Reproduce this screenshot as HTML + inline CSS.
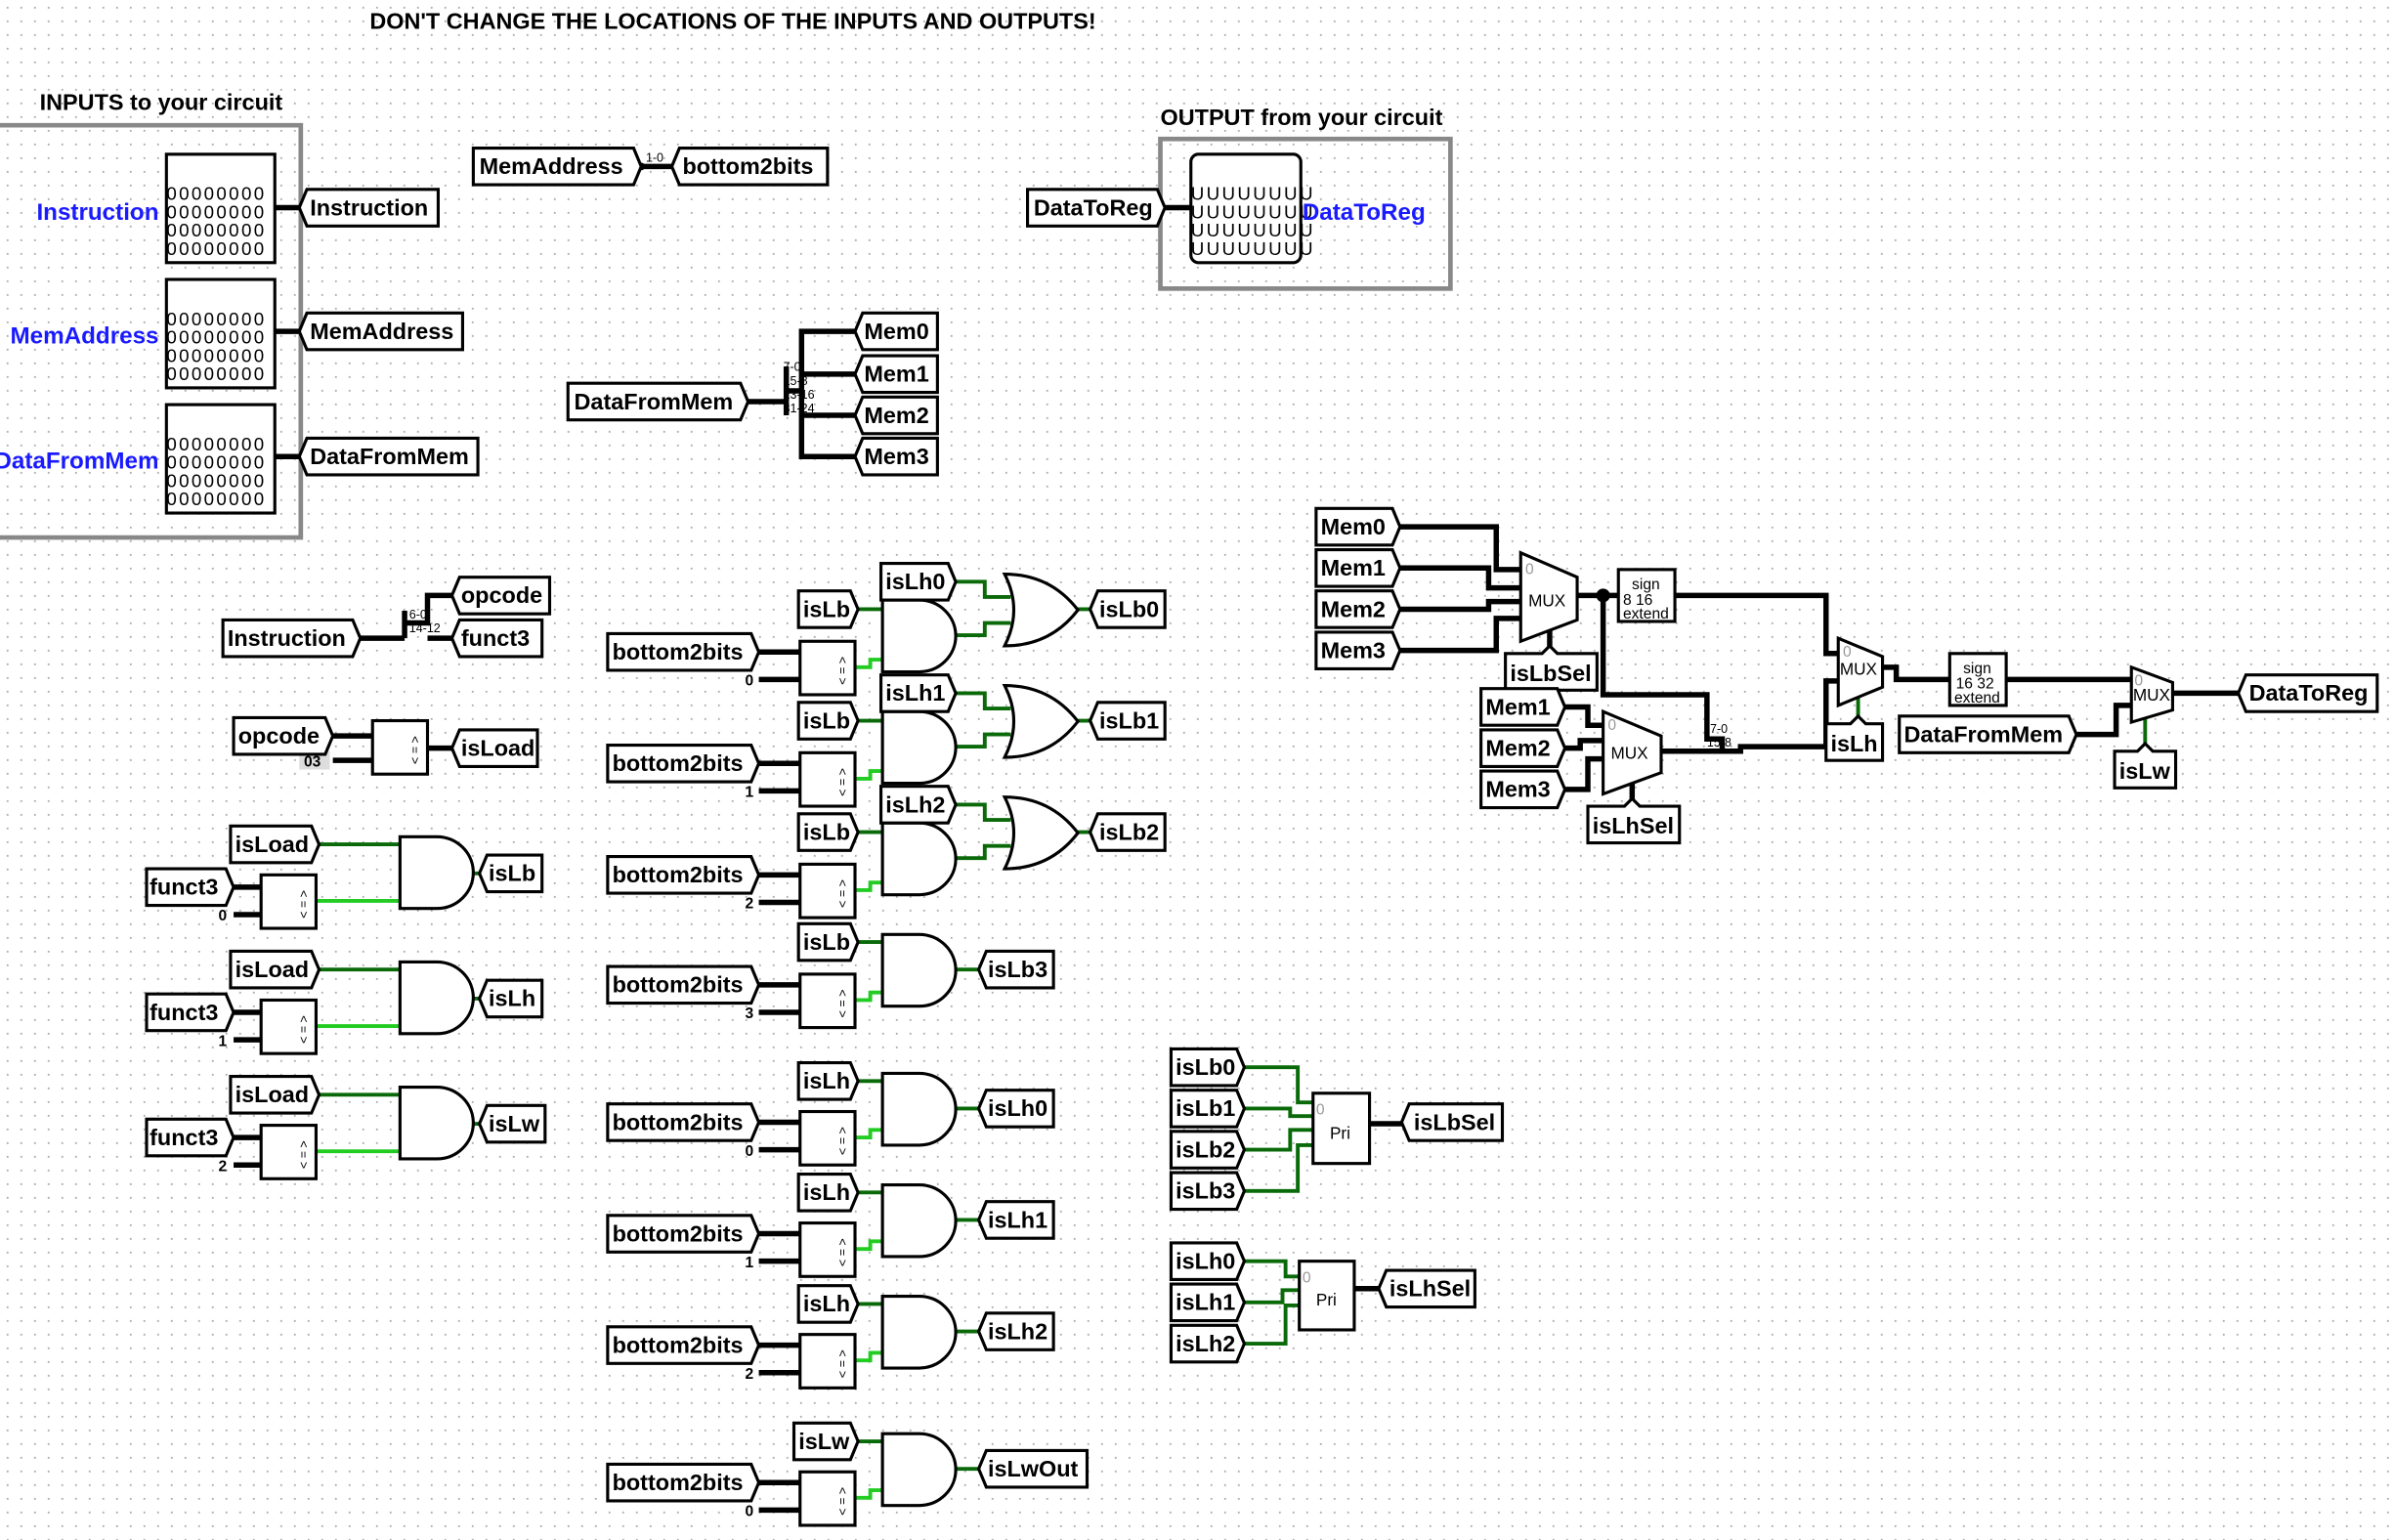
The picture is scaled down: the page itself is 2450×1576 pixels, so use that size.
<!DOCTYPE html>
<html><head><meta charset="utf-8"><style>
html,body{margin:0;padding:0;background:#fff;}
svg{display:block;}
text{font-family:"Liberation Sans",sans-serif;}
.t{font-weight:bold;font-size:15px;fill:#000;}
.tn{fill:#fff;stroke:#000;stroke-width:2;}
.w{fill:none;stroke:#000;stroke-width:3.5;}
.g{fill:none;stroke:#0a6a0a;stroke-width:2.5;}
.lg{fill:none;stroke:#22cc22;stroke-width:2.5;}
.gate{fill:#fff;stroke:#000;stroke-width:2;}
.cmp{fill:#fff;stroke:#000;stroke-width:2;}
.s{font-size:8px;}
.m{font-family:"Liberation Mono",monospace;font-size:12px;letter-spacing:1.5px;}
.b{fill:#1a1aff;font-weight:bold;font-size:15.5px;}
</style></head><body>
<svg width="2450" height="1576" viewBox="0 0 1568 1008.6" xmlns="http://www.w3.org/2000/svg">
<defs>
<pattern id="grid" x="4" y="4" width="8.96" height="8.96" patternUnits="userSpaceOnUse"><circle cx="1" cy="1" r="0.6" fill="#999"/></pattern>
<path id="and" d="M0,0 H24 A24,23.5 0 0 1 24,47 H0 Z" class="gate"/>
<path id="or" d="M0,0 Q30,0 48,23.5 Q30,47 0,47 Q12,23.5 0,0 Z" class="gate"/>
<g id="cmp"><rect width="36" height="35" class="cmp"/><text x="25" y="10" font-size="8" transform="rotate(90 25 10)">&lt; = &gt;</text></g>
</defs>
<rect width="1568" height="1009" fill="#fff"/>
<rect width="1568" height="1009" fill="url(#grid)"/>

<text x="480" y="19" class="t" text-anchor="middle" font-size="14">DON'T CHANGE THE LOCATIONS OF THE INPUTS AND OUTPUTS!</text>
<text x="26" y="72" class="t" font-size="14">INPUTS to your circuit</text>
<polyline points="0,82 197,82 197,352 0,352" fill="none" stroke="#888" stroke-width="3"/>
<text x="760" y="82" class="t" font-size="14">OUTPUT from your circuit</text>
<rect x="760" y="91" width="190" height="98" fill="none" stroke="#888" stroke-width="3"/>

<g stroke="#000" stroke-width="2" fill="#fff">
<rect x="109" y="101" width="71" height="71"/><rect x="109" y="183" width="71" height="71"/><rect x="109" y="265" width="71" height="71"/>
<rect x="780" y="101" width="72" height="71" rx="5"/>
</g>
<g class="m">
<text x="109" y="131">00000000</text><text x="109" y="143">00000000</text><text x="109" y="155">00000000</text><text x="109" y="167">00000000</text>
<text x="109" y="213">00000000</text><text x="109" y="225">00000000</text><text x="109" y="237">00000000</text><text x="109" y="249">00000000</text>
<text x="109" y="295">00000000</text><text x="109" y="307">00000000</text><text x="109" y="319">00000000</text><text x="109" y="331">00000000</text>
<text x="780" y="131">UUUUUUUU</text><text x="780" y="143">UUUUUUUU</text><text x="780" y="155">UUUUUUUU</text><text x="780" y="167">UUUUUUUU</text>
</g>
<text x="104" y="144" class="b" text-anchor="end">Instruction</text>
<text x="104" y="225" class="b" text-anchor="end">MemAddress</text>
<text x="104" y="307" class="b" text-anchor="end">DataFromMem</text>
<text x="853" y="144" class="b">DataToReg</text>

<g class="w">
<path d="M180,136H196M180,217H196M180,299H196"/>
<path d="M763,136H780"/>
<path d="M420,109H440"/>
<path d="M490,263H515M515,240V272M515,256H525V217H560M525,245H560M525,272H560M525,256V299H560"/>
<path d="M236,418H265M265,400V418M265,408H280V390H296M280,418H296"/>
<path d="M218,482H244M218,498H244M280,490H296"/>
<path d="M153,581H171M153,599H171M153,663H171M153,681H171M153,745H171M153,763H171"/>
<path d="M497,427H524M497,445H524M497,500H524M497,518H524M497,573H524M497,591H524M497,645H524M497,663H524"/>
<path d="M497,735H524M497,753H524M497,808H524M497,826H524M497,881H524M497,899H524M497,971H524M497,989H524"/>
<path d="M917,345H980V373H996M917,372H975V385H996M917,399H975V394H996M917,426H980V405H996"/>
<path d="M1015,412V428M1033,390H1060M1097,390H1196V428H1204M1050,390V455H1118V484H1128V492M1088,492H1140V489H1196V446H1204"/>
<path d="M1025,463H1040V475H1050M1025,490H1035V485H1050M1025,517H1040V497H1050M1069,513V528"/>
<path d="M1233,437H1242V445H1277M1314,445H1396M1360,481H1386V462H1396M1423,454H1466"/>
<path d="M897,736H918M887,844H903"/>
</g>
<circle cx="1050" cy="390" r="4.5" fill="#000"/>
<circle cx="420" cy="109" r="2.5" fill="#000"/>
<g class="s"><text x="423" y="106">1-0</text><text x="513" y="243">7-0</text><text x="513" y="252">15-8</text><text x="513" y="261">23-16</text><text x="513" y="270">31-24</text>
<text x="268" y="405">6-0</text><text x="268" y="414">14-12</text><text x="1120" y="480">7-0</text><text x="1118" y="489">15-8</text></g>

<g class="g">
<path d="M209,553H262M209,635H262M209,717H262"/>
<path d="M562,399H578M626,381H645V391H662M625,416H645V408H662M706,399H714"/>
<path d="M562,472H578M626,454H645V464H662M625,489H645V481H662M706,472H714"/>
<path d="M562,545H578M626,527H645V537H662M625,562H645V554H662M706,545H714"/>
<path d="M562,617H578M625,635H641M562,708H578M625,726H641M562,781H578M625,799H641M562,854H578M625,872H641M562,944H578M625,962H641"/>
<path d="M310,572H314M310,654H314M310,736H314"/>
<path d="M1217,474V455M1405,492V469"/>
<path d="M815,699H850V722H860M815,726H845V731H860M815,753H845V740H860M815,780H850V750H860"/>
<path d="M815,826H842V836H851M815,853H840V845H851M815,880H842V855H851"/>
</g>
<g class="lg">
<path d="M207,590H262M207,672H262M207,754H262"/>
<path d="M560,437H570V432H578M560,510H570V505H578M560,583H570V578H578M560,655H570V650H578"/>
<path d="M560,745H570V740H578M560,818H570V813H578M560,891H570V886H578M560,981H570V976H578"/>
</g>

<use href="#and" x="262" y="548"/><use href="#and" x="262" y="630"/><use href="#and" x="262" y="712"/>
<use href="#and" x="578" y="393"/><use href="#and" x="578" y="466"/><use href="#and" x="578" y="539"/><use href="#and" x="578" y="612"/>
<use href="#and" x="578" y="703"/><use href="#and" x="578" y="776"/><use href="#and" x="578" y="849"/><use href="#and" x="578" y="939"/>
<use href="#or" x="658" y="376"/><use href="#or" x="658" y="449"/><use href="#or" x="658" y="522"/>
<use href="#cmp" x="244" y="472"/>
<use href="#cmp" x="171" y="573"/><use href="#cmp" x="171" y="655"/><use href="#cmp" x="171" y="737"/>
<use href="#cmp" x="524" y="420"/><use href="#cmp" x="524" y="493"/><use href="#cmp" x="524" y="566"/><use href="#cmp" x="524" y="638"/>
<use href="#cmp" x="524" y="728"/><use href="#cmp" x="524" y="801"/><use href="#cmp" x="524" y="874"/><use href="#cmp" x="524" y="964"/>
<g font-size="10" font-weight="bold"><rect x="196" y="492" width="20" height="12" fill="#ddd"/><text x="199" y="502">03</text>
<text x="143" y="603">0</text><text x="143" y="685">1</text><text x="143" y="767">2</text>
<text x="488" y="449">0</text><text x="488" y="522">1</text><text x="488" y="595">2</text><text x="488" y="667">3</text>
<text x="488" y="757">0</text><text x="488" y="830">1</text><text x="488" y="903">2</text><text x="488" y="993">0</text></g>

<g class="gate">
<polygon points="996,362 1033,378 1033,406 996,420"/>
<polygon points="1050,466 1088,482 1088,506 1050,520"/>
<polygon points="1204,418 1233,430 1233,450 1204,462"/>
<polygon points="1396,437 1423,447 1423,465 1396,473"/>
<rect x="1060" y="373" width="37" height="34"/><rect x="1277" y="428" width="37" height="34"/>
<rect x="860" y="716" width="37" height="46"/><rect x="851" y="826" width="36" height="45"/>
</g>
<g font-size="11"><text x="1001" y="397">MUX</text><text x="1055" y="497">MUX</text><text x="1205" y="442">MUX</text><text x="1397" y="459">MUX</text>
<text x="1078" y="386" text-anchor="middle" font-size="10">sign</text><text x="1063" y="396" font-size="10">8  16</text><text x="1078" y="405" text-anchor="middle" font-size="10">extend</text>
<text x="1295" y="441" text-anchor="middle" font-size="10">sign</text><text x="1281" y="451" font-size="10">16 32</text><text x="1295" y="460" text-anchor="middle" font-size="10">extend</text>
<text x="871" y="746">Pri</text><text x="862" y="855">Pri</text></g>
<g font-size="10" fill="#999"><text x="999" y="376">0</text><text x="1053" y="478">0</text><text x="1207" y="430">0</text><text x="1398" y="449">0</text><text x="862" y="730">0</text><text x="853" y="840">0</text></g>

<g class="tn">
<polygon points="196,136 201,124 287,124 287,148 201,148"/>
<polygon points="196,217 201,205 303,205 303,229 201,229"/>
<polygon points="196,299 201,287 313,287 313,311 201,311"/>
<polygon points="310,97 415,97 420,109 415,121 310,121"/>
<polygon points="440,109 445,97 542,97 542,121 445,121"/>
<polygon points="673,124 758,124 763,136 758,148 673,148"/>
<polygon points="372,251 485,251 490,263 485,275 372,275"/>
<polygon points="560,217 565,205 614,205 614,229 565,229"/>
<polygon points="560,245 565,233 614,233 614,257 565,257"/>
<polygon points="560,272 565,260 614,260 614,284 565,284"/>
<polygon points="560,299 565,287 614,287 614,311 565,311"/>
<polygon points="146,406 231,406 236,418 231,430 146,430"/>
<polygon points="296,390 301,378 360,378 360,402 301,402"/>
<polygon points="296,418 301,406 355,406 355,430 301,430"/>
<polygon points="153,470 213,470 218,482 213,494 153,494"/>
<polygon points="296,490 301,478 352,478 352,502 301,502"/>
<polygon points="151,541 204,541 209,553 204,565 151,565"/>
<polygon points="96,569 148,569 153,581 148,593 96,593"/>
<polygon points="314,572 319,560 355,560 355,584 319,584"/>
<polygon points="151,623 204,623 209,635 204,647 151,647"/>
<polygon points="96,651 148,651 153,663 148,675 96,675"/>
<polygon points="314,654 319,642 355,642 355,666 319,666"/>
<polygon points="151,705 204,705 209,717 204,729 151,729"/>
<polygon points="96,733 148,733 153,745 148,757 96,757"/>
<polygon points="314,736 319,724 357,724 357,748 319,748"/>
<polygon points="523,387 557,387 562,399 557,411 523,411"/>
<polygon points="577,369 621,369 626,381 621,393 577,393"/>
<polygon points="398,415 492,415 497,427 492,439 398,439"/>
<polygon points="714,399 719,387 763,387 763,411 719,411"/>
<polygon points="523,460 557,460 562,472 557,484 523,484"/>
<polygon points="577,442 621,442 626,454 621,466 577,466"/>
<polygon points="398,488 492,488 497,500 492,512 398,512"/>
<polygon points="714,472 719,460 763,460 763,484 719,484"/>
<polygon points="523,533 557,533 562,545 557,557 523,557"/>
<polygon points="577,515 621,515 626,527 621,539 577,539"/>
<polygon points="398,561 492,561 497,573 492,585 398,585"/>
<polygon points="714,545 719,533 763,533 763,557 719,557"/>
<polygon points="523,605 557,605 562,617 557,629 523,629"/>
<polygon points="398,633 492,633 497,645 492,657 398,657"/>
<polygon points="641,635 646,623 690,623 690,647 646,647"/>
<polygon points="523,696 557,696 562,708 557,720 523,720"/>
<polygon points="398,723 492,723 497,735 492,747 398,747"/>
<polygon points="641,726 646,714 690,714 690,738 646,738"/>
<polygon points="523,769 557,769 562,781 557,793 523,793"/>
<polygon points="398,796 492,796 497,808 492,820 398,820"/>
<polygon points="641,799 646,787 690,787 690,811 646,811"/>
<polygon points="523,842 557,842 562,854 557,866 523,866"/>
<polygon points="398,869 492,869 497,881 492,893 398,893"/>
<polygon points="641,872 646,860 690,860 690,884 646,884"/>
<polygon points="520,932 557,932 562,944 557,956 520,956"/>
<polygon points="398,959 492,959 497,971 492,983 398,983"/>
<polygon points="641,962 646,950 712,950 712,974 646,974"/>
<polygon points="862,333 912,333 917,345 912,357 862,357"/>
<polygon points="862,360 912,360 917,372 912,384 862,384"/>
<polygon points="862,387 912,387 917,399 912,411 862,411"/>
<polygon points="862,414 912,414 917,426 912,438 862,438"/>
<polygon points="986,428 1010,428 1015,423 1020,428 1046,428 1046,452 986,452"/>
<polygon points="970,451 1020,451 1025,463 1020,475 970,475"/>
<polygon points="970,478 1020,478 1025,490 1020,502 970,502"/>
<polygon points="970,505 1020,505 1025,517 1020,529 970,529"/>
<polygon points="1040,528 1064,528 1069,523 1074,528 1100,528 1100,552 1040,552"/>
<polygon points="1196,474 1212,474 1217,469 1222,474 1233,474 1233,498 1196,498"/>
<polygon points="1244,469 1355,469 1360,481 1355,493 1244,493"/>
<polygon points="1385,492 1400,492 1405,487 1410,492 1425,492 1425,516 1385,516"/>
<polygon points="1466,454 1471,442 1557,442 1557,466 1471,466"/>
<polygon points="767,687 810,687 815,699 810,711 767,711"/>
<polygon points="767,714 810,714 815,726 810,738 767,738"/>
<polygon points="767,741 810,741 815,753 810,765 767,765"/>
<polygon points="767,768 810,768 815,780 810,792 767,792"/>
<polygon points="918,735 923,723 984,723 984,747 923,747"/>
<polygon points="767,814 810,814 815,826 810,838 767,838"/>
<polygon points="767,841 810,841 815,853 810,865 767,865"/>
<polygon points="767,868 810,868 815,880 810,892 767,892"/>
<polygon points="903,844 908,832 966,832 966,856 908,856"/>
</g>
<g class="t">
<text x="203" y="141">Instruction</text><text x="203" y="222">MemAddress</text><text x="203" y="304">DataFromMem</text>
<text x="314" y="114">MemAddress</text><text x="447" y="114">bottom2bits</text>
<text x="677" y="141">DataToReg</text><text x="376" y="268">DataFromMem</text>
<text x="566" y="222">Mem0</text><text x="566" y="250">Mem1</text><text x="566" y="277">Mem2</text><text x="566" y="304">Mem3</text>
<text x="149" y="423">Instruction</text><text x="302" y="395">opcode</text><text x="302" y="423">funct3</text>
<text x="156" y="487">opcode</text><text x="302" y="495">isLoad</text>
<text x="154" y="558">isLoad</text><text x="98" y="586">funct3</text><text x="320" y="577">isLb</text>
<text x="154" y="640">isLoad</text><text x="98" y="668">funct3</text><text x="320" y="659">isLh</text>
<text x="154" y="722">isLoad</text><text x="98" y="750">funct3</text><text x="320" y="741">isLw</text>
<text x="526" y="404">isLb</text><text x="580" y="386">isLh0</text><text x="401" y="432">bottom2bits</text><text x="720" y="404">isLb0</text>
<text x="526" y="477">isLb</text><text x="580" y="459">isLh1</text><text x="401" y="505">bottom2bits</text><text x="720" y="477">isLb1</text>
<text x="526" y="550">isLb</text><text x="580" y="532">isLh2</text><text x="401" y="578">bottom2bits</text><text x="720" y="550">isLb2</text>
<text x="526" y="622">isLb</text><text x="401" y="650">bottom2bits</text><text x="647" y="640">isLb3</text>
<text x="526" y="713">isLh</text><text x="401" y="740">bottom2bits</text><text x="647" y="731">isLh0</text>
<text x="526" y="786">isLh</text><text x="401" y="813">bottom2bits</text><text x="647" y="804">isLh1</text>
<text x="526" y="859">isLh</text><text x="401" y="886">bottom2bits</text><text x="647" y="877">isLh2</text>
<text x="523" y="949">isLw</text><text x="401" y="976">bottom2bits</text><text x="647" y="967">isLwOut</text>
<text x="865" y="350">Mem0</text><text x="865" y="377">Mem1</text><text x="865" y="404">Mem2</text><text x="865" y="431">Mem3</text>
<text x="989" y="446">isLbSel</text>
<text x="973" y="468">Mem1</text><text x="973" y="495">Mem2</text><text x="973" y="522">Mem3</text>
<text x="1043" y="546">isLhSel</text><text x="1199" y="492">isLh</text>
<text x="1247" y="486">DataFromMem</text><text x="1388" y="510">isLw</text><text x="1473" y="459">DataToReg</text>
<text x="770" y="704">isLb0</text><text x="770" y="731">isLb1</text><text x="770" y="758">isLb2</text><text x="770" y="785">isLb3</text>
<text x="926" y="740">isLbSel</text>
<text x="770" y="831">isLh0</text><text x="770" y="858">isLh1</text><text x="770" y="885">isLh2</text>
<text x="910" y="849">isLhSel</text>
</g>
</svg>
</body></html>
